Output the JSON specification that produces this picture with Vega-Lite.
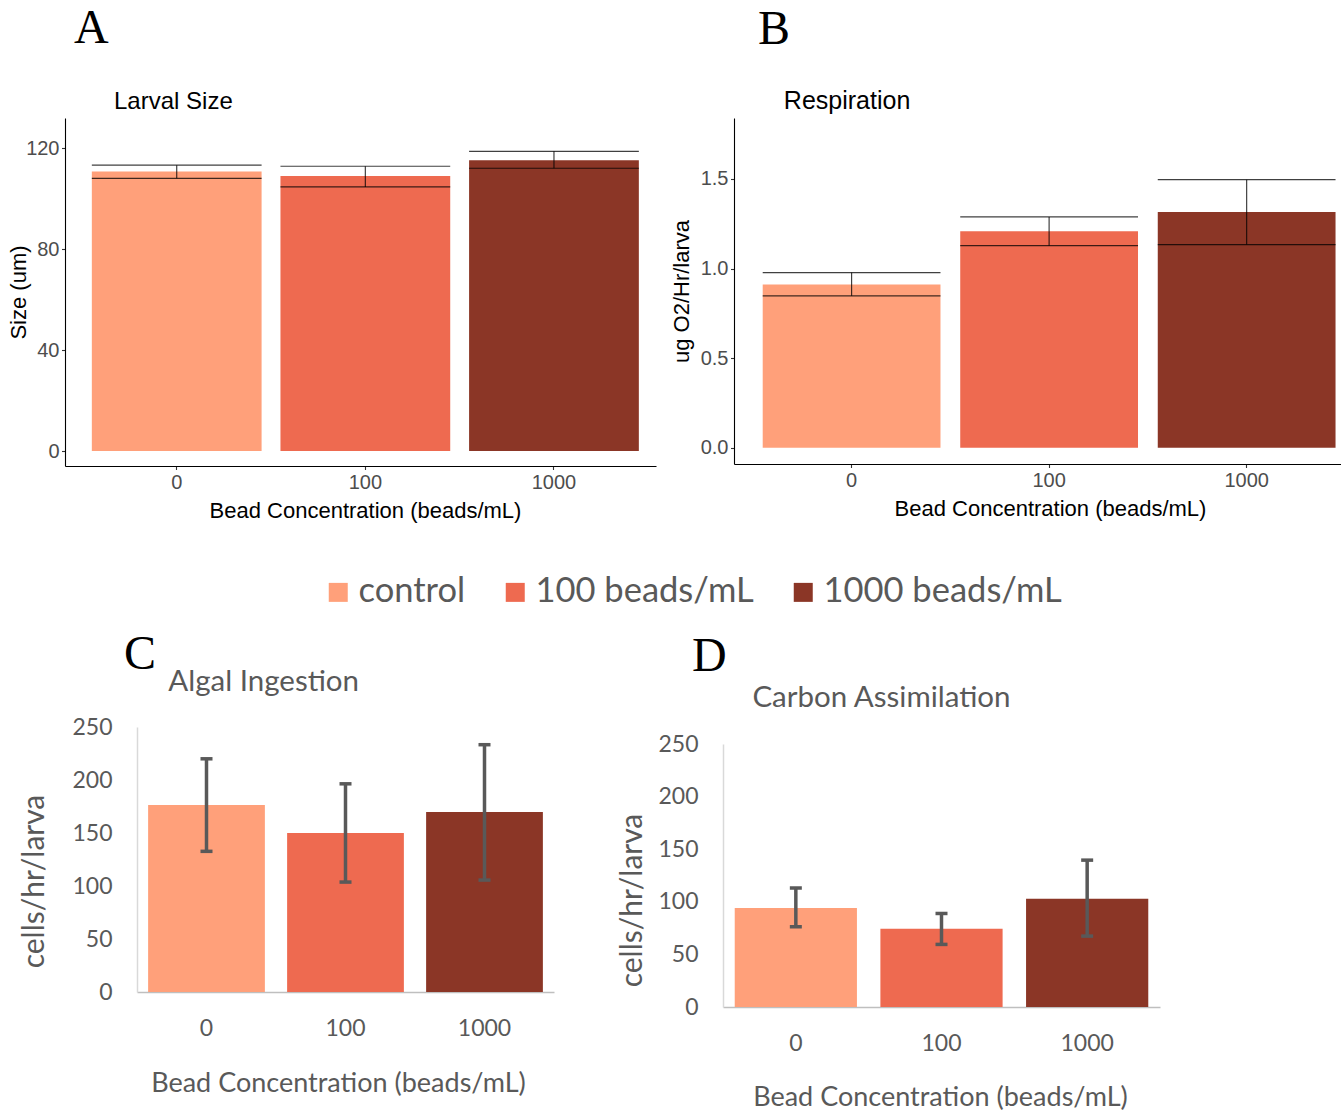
{
  "$schema": "https://vega.github.io/schema/vega-lite/v6.json",
  "background": "white",
  "padding": {"left": 7, "top": 5, "right": 0, "bottom": 0},
  "config": {"view": {"stroke": null}, "axis": {"grid": false}, "legend": {"padding": 0}},
  "datasets": {
    "A": [
      {"conc": "0", "group": "control", "mean": 110.7, "lo": 108.0, "hi": 113.2},
      {"conc": "100", "group": "100 beads/mL", "mean": 108.9, "lo": 104.6, "hi": 112.8},
      {"conc": "1000", "group": "1000 beads/mL", "mean": 115.2, "lo": 112.0, "hi": 118.7}
    ],
    "B": [
      {"conc": "0", "group": "control", "mean": 0.911, "lo": 0.848, "hi": 0.978},
      {"conc": "100", "group": "100 beads/mL", "mean": 1.208, "lo": 1.128, "hi": 1.288},
      {"conc": "1000", "group": "1000 beads/mL", "mean": 1.316, "lo": 1.134, "hi": 1.496}
    ],
    "C": [
      {"conc": "0", "group": "control", "mean": 176.5, "lo": 132.7, "hi": 220.0},
      {"conc": "100", "group": "100 beads/mL", "mean": 150.1, "lo": 103.7, "hi": 196.4},
      {"conc": "1000", "group": "1000 beads/mL", "mean": 169.9, "lo": 105.6, "hi": 233.3}
    ],
    "D": [
      {"conc": "0", "group": "control", "mean": 94.0, "lo": 76.3, "hi": 113.0},
      {"conc": "100", "group": "100 beads/mL", "mean": 74.4, "lo": 59.5, "hi": 88.9},
      {"conc": "1000", "group": "1000 beads/mL", "mean": 102.8, "lo": 67.4, "hi": 139.6}
    ]
  },
  "columns": 2,
  "bounds": "flush",
  "spacing": {"row": 261, "column": 78},
  "concat": [
    {
      "width": 591, "height": 348,
      "data": {"name": "A"},
      "title": {"text": "A", "subtitle": "\u200b\u00a0\u00a0\u00a0\u00a0\u00a0\u00a0Larval Size", "anchor": "start", "frame": "group", "dx": 9, "offset": 4, "font": "Liberation Serif", "fontSize": 48, "fontWeight": "normal", "color": "#000000", "subtitleFont": "Liberation Sans", "subtitleFontSize": 24, "subtitleColor": "#000000", "subtitlePadding": 37},
      "layer": [
        {
          "mark": {"type": "bar"},
          "encoding": {
            "x": {"field": "conc", "type": "ordinal", "sort": ["0", "100", "1000"],
              "scale": {"paddingInner": 0.1, "paddingOuter": 0.1166, "align": 0.61},
              "axis": {"title": "Bead Concentration (beads/mL)", "titleX": 300, "labelAngle": 0, "domainColor": "#000000", "domainWidth": 1.1, "tickColor": "#333333", "tickSize": 3.5, "tickWidth": 1.1, "labelPadding": 3, "labelColor": "#4D4D4D", "labelFont": "Liberation Sans", "labelFontSize": 20, "titleFont": "Liberation Sans", "titleFontSize": 22, "titleFontWeight": "normal", "titleColor": "#000000", "titlePadding": 8}},
            "y": {"field": "mean", "type": "quantitative", "title": "Size (um)",
              "scale": {"domain": [-5.9, 131.9], "nice": false, "zero": false},
              "axis": {"values": [0, 40, 80, 120], "domainColor": "#000000", "domainWidth": 1.1, "tickColor": "#333333", "tickSize": 3.5, "tickWidth": 1.1, "labelPadding": 2.5, "labelColor": "#4D4D4D", "labelFont": "Liberation Sans", "labelFontSize": 20, "titleFont": "Liberation Sans", "titleFontSize": 22, "titleFontWeight": "normal", "titleColor": "#000000", "titlePadding": -5}},
            "y2": {"datum": 0},
            "color": {"field": "group", "type": "nominal",
              "scale": {"domain": ["control", "100 beads/mL", "1000 beads/mL"], "range": ["#FFA07A", "#EE6A50", "#8B3626"]},
              "legend": {"title": null, "orient": "none", "legendX": 256, "legendY": 457, "direction": "horizontal", "symbolType": "square", "symbolSize": 361, "symbolStrokeWidth": 0, "symbolOpacity": 1, "labelFont": "Lato", "labelFontSize": 34.5, "labelColor": "#595959", "labelOffset": 3, "labelLimit": 500, "columnPadding": 32, "padding": 0}}
          }
        },
        {
          "mark": {"type": "rule", "color": "#000000", "opacity": 0.75, "strokeWidth": 1.2},
          "encoding": {
            "x": {"field": "conc", "type": "ordinal", "sort": ["0", "100", "1000"]},
            "y": {"field": "lo", "type": "quantitative", "title": "Size (um)", "scale": {"domain": [-5.9, 131.9], "nice": false, "zero": false}},
            "y2": {"field": "hi"}
          }
        },
        {
          "mark": {"type": "rule", "color": "#000000", "opacity": 0.75, "strokeWidth": 1.2},
          "encoding": {
            "x": {"field": "conc", "type": "ordinal", "sort": ["0", "100", "1000"], "bandPosition": 0},
            "x2": {"field": "conc", "bandPosition": 1},
            "y": {"field": "hi", "type": "quantitative", "title": "Size (um)", "scale": {"domain": [-5.9, 131.9], "nice": false, "zero": false}}
          }
        },
        {
          "mark": {"type": "rule", "color": "#000000", "opacity": 0.75, "strokeWidth": 1.2},
          "encoding": {
            "x": {"field": "conc", "type": "ordinal", "sort": ["0", "100", "1000"], "bandPosition": 0},
            "x2": {"field": "conc", "bandPosition": 1},
            "y": {"field": "lo", "type": "quantitative", "title": "Size (um)", "scale": {"domain": [-5.9, 131.9], "nice": false, "zero": false}}
          }
        }
      ]
    },
    {
      "width": 607, "height": 346,
      "data": {"name": "B"},
      "title": {"text": "B", "subtitle": "\u200b\u00a0\u00a0\u00a0\u2009Respiration", "anchor": "start", "frame": "group", "dx": 24, "offset": 4, "font": "Liberation Serif", "fontSize": 48, "fontWeight": "normal", "color": "#000000", "subtitleFont": "Liberation Sans", "subtitleFontSize": 25, "subtitleColor": "#000000", "subtitlePadding": 35},
      "layer": [
        {
          "mark": {"type": "bar"},
          "encoding": {
            "x": {"field": "conc", "type": "ordinal", "sort": ["0", "100", "1000"],
              "scale": {"paddingInner": 0.1, "paddingOuter": 0.0865, "align": 0.84},
              "axis": {"title": "Bead Concentration (beads/mL)", "titleX": 316, "labelAngle": 0, "domainColor": "#000000", "domainWidth": 1.1, "tickColor": "#333333", "tickSize": 3.5, "tickWidth": 1.1, "labelPadding": 3, "labelColor": "#4D4D4D", "labelFont": "Liberation Sans", "labelFontSize": 20, "titleFont": "Liberation Sans", "titleFontSize": 22, "titleFontWeight": "normal", "titleColor": "#000000", "titlePadding": 8}},
            "y": {"field": "mean", "type": "quantitative", "title": "ug O2/Hr/larva",
              "scale": {"domain": [-0.09, 1.84], "nice": false, "zero": false},
              "axis": {"values": [0, 0.5, 1, 1.5], "format": ".1f", "domainColor": "#000000", "domainWidth": 1.1, "tickColor": "#333333", "tickSize": 3.5, "tickWidth": 1.1, "labelPadding": 2.5, "labelColor": "#4D4D4D", "labelFont": "Liberation Sans", "labelFontSize": 20, "titleFont": "Liberation Sans", "titleFontSize": 22, "titleFontWeight": "normal", "titleColor": "#000000", "titlePadding": 7}},
            "y2": {"datum": 0},
            "color": {"field": "group", "type": "nominal",
              "scale": {"domain": ["control", "100 beads/mL", "1000 beads/mL"], "range": ["#FFA07A", "#EE6A50", "#8B3626"]},
              "legend": {"title": null, "orient": "none", "legendX": 256, "legendY": 457, "direction": "horizontal", "symbolType": "square", "symbolSize": 361, "symbolStrokeWidth": 0, "symbolOpacity": 1, "labelFont": "Lato", "labelFontSize": 34.5, "labelColor": "#595959", "labelOffset": 3, "labelLimit": 500, "columnPadding": 32, "padding": 0}}
          }
        },
        {
          "mark": {"type": "rule", "color": "#000000", "opacity": 0.75, "strokeWidth": 1.2},
          "encoding": {
            "x": {"field": "conc", "type": "ordinal", "sort": ["0", "100", "1000"]},
            "y": {"field": "lo", "type": "quantitative", "title": "ug O2/Hr/larva", "scale": {"domain": [-0.09, 1.84], "nice": false, "zero": false}},
            "y2": {"field": "hi"}
          }
        },
        {
          "mark": {"type": "rule", "color": "#000000", "opacity": 0.75, "strokeWidth": 1.2},
          "encoding": {
            "x": {"field": "conc", "type": "ordinal", "sort": ["0", "100", "1000"], "bandPosition": 0},
            "x2": {"field": "conc", "bandPosition": 1},
            "y": {"field": "hi", "type": "quantitative", "title": "ug O2/Hr/larva", "scale": {"domain": [-0.09, 1.84], "nice": false, "zero": false}}
          }
        },
        {
          "mark": {"type": "rule", "color": "#000000", "opacity": 0.75, "strokeWidth": 1.2},
          "encoding": {
            "x": {"field": "conc", "type": "ordinal", "sort": ["0", "100", "1000"], "bandPosition": 0},
            "x2": {"field": "conc", "bandPosition": 1},
            "y": {"field": "lo", "type": "quantitative", "title": "ug O2/Hr/larva", "scale": {"domain": [-0.09, 1.84], "nice": false, "zero": false}}
          }
        }
      ]
    },
    {
      "width": 489, "height": 265,
      "data": {"name": "C"},
      "title": {"text": "C", "subtitle": "\u200b\u00a0\u00a0\u00a0\u00a0\u00a0\u00a0Algal Ingestion", "anchor": "start", "frame": "group", "dx": 59, "offset": 20, "font": "Liberation Serif", "fontSize": 48, "fontWeight": "normal", "color": "#000000", "subtitleFont": "Lato", "subtitleFontSize": 29.5, "subtitleColor": "#595959", "subtitlePadding": -11},
      "layer": [
        {
          "mark": {"type": "bar"},
          "encoding": {
            "x": {"field": "conc", "type": "ordinal", "sort": ["0", "100", "1000"],
              "scale": {"range": [72, 489], "paddingInner": 0.16, "paddingOuter": 0.08},
              "axis": {"title": "Bead Concentration (beads/mL)", "titleX": 273, "labelAngle": 0, "ticks": false, "tickSize": 0, "domainColor": "#BFBFBF", "domainWidth": 1.5, "labelPadding": 25, "labelColor": "#595959", "labelFont": "Lato", "labelFontSize": 23, "titleFont": "Lato", "titleFontSize": 27, "titleFontWeight": "normal", "titleColor": "#595959", "titlePadding": 30}},
            "y": {"field": "mean", "type": "quantitative", "title": "cells/hr/larva",
              "scale": {"domain": [0, 250], "nice": false},
              "axis": {"values": [0, 50, 100, 150, 200, 250], "offset": -72, "ticks": false, "tickSize": 0, "domainColor": "#D9D9D9", "domainWidth": 1.5, "labelPadding": 25, "labelColor": "#595959", "labelFont": "Lato", "labelFontSize": 23, "titleFont": "Lato", "titleFontSize": 30, "titleFontWeight": "normal", "titleColor": "#595959", "titlePadding": 22, "titleY": 154}},
            "y2": {"datum": 0},
            "color": {"field": "group", "type": "nominal",
              "scale": {"domain": ["control", "100 beads/mL", "1000 beads/mL"], "range": ["#FFA07A", "#EE6A50", "#8B3626"]},
              "legend": {"title": null, "orient": "none", "legendX": 256, "legendY": 457, "direction": "horizontal", "symbolType": "square", "symbolSize": 361, "symbolStrokeWidth": 0, "symbolOpacity": 1, "labelFont": "Lato", "labelFontSize": 34.5, "labelColor": "#595959", "labelOffset": 3, "labelLimit": 500, "columnPadding": 32, "padding": 0}}
          }
        },
        {
          "mark": {"type": "rule", "color": "#595959", "strokeWidth": 3.5},
          "encoding": {
            "x": {"field": "conc", "type": "ordinal", "sort": ["0", "100", "1000"]},
            "y": {"field": "lo", "type": "quantitative", "title": "cells/hr/larva", "scale": {"domain": [0, 250], "nice": false}},
            "y2": {"field": "hi"}
          }
        },
        {
          "mark": {"type": "tick", "color": "#595959", "size": 12, "thickness": 3.5, "opacity": 1},
          "encoding": {
            "x": {"field": "conc", "type": "ordinal", "sort": ["0", "100", "1000"]},
            "y": {"field": "hi", "type": "quantitative", "title": "cells/hr/larva", "scale": {"domain": [0, 250], "nice": false}}
          }
        },
        {
          "mark": {"type": "tick", "color": "#595959", "size": 12, "thickness": 3.5, "opacity": 1},
          "encoding": {
            "x": {"field": "conc", "type": "ordinal", "sort": ["0", "100", "1000"]},
            "y": {"field": "lo", "type": "quantitative", "title": "cells/hr/larva", "scale": {"domain": [0, 250], "nice": false}}
          }
        }
      ]
    },
    {
      "width": 426, "height": 280,
      "data": {"name": "D"},
      "title": {"text": "D", "subtitle": "\u200b\u00a0\u00a0\u00a0\u00a0\u00a0\u00a0\u00a0\u00a0Carbon Assimilation", "anchor": "start", "frame": "group", "dx": -42, "offset": 15, "font": "Liberation Serif", "fontSize": 48, "fontWeight": "normal", "color": "#000000", "subtitleFont": "Lato", "subtitleFontSize": 29.5, "subtitleColor": "#595959", "subtitlePadding": 3},
      "layer": [
        {
          "mark": {"type": "bar"},
          "encoding": {
            "x": {"field": "conc", "type": "ordinal", "sort": ["0", "100", "1000"],
              "scale": {"range": [-11, 426], "paddingInner": 0.161, "paddingOuter": 0.0805},
              "axis": {"title": "Bead Concentration (beads/mL)", "titleX": 206, "labelAngle": 0, "ticks": false, "tickSize": 0, "domainColor": "#BFBFBF", "domainWidth": 1.5, "labelPadding": 25, "labelColor": "#595959", "labelFont": "Lato", "labelFontSize": 23, "titleFont": "Lato", "titleFontSize": 27, "titleFontWeight": "normal", "titleColor": "#595959", "titlePadding": 29}},
            "y": {"field": "mean", "type": "quantitative", "title": "cells/hr/larva",
              "scale": {"domain": [0, 250], "nice": false, "range": [280, 17]},
              "axis": {"values": [0, 50, 100, 150, 200, 250], "offset": 11, "ticks": false, "tickSize": 0, "domainColor": "#D9D9D9", "domainWidth": 1.5, "labelPadding": 25, "labelColor": "#595959", "labelFont": "Lato", "labelFontSize": 23, "titleFont": "Lato", "titleFontSize": 30, "titleFontWeight": "normal", "titleColor": "#595959", "titlePadding": 10, "titleY": 173}},
            "y2": {"datum": 0},
            "color": {"field": "group", "type": "nominal",
              "scale": {"domain": ["control", "100 beads/mL", "1000 beads/mL"], "range": ["#FFA07A", "#EE6A50", "#8B3626"]},
              "legend": {"title": null, "orient": "none", "legendX": 256, "legendY": 457, "direction": "horizontal", "symbolType": "square", "symbolSize": 361, "symbolStrokeWidth": 0, "symbolOpacity": 1, "labelFont": "Lato", "labelFontSize": 34.5, "labelColor": "#595959", "labelOffset": 3, "labelLimit": 500, "columnPadding": 32, "padding": 0}}
          }
        },
        {
          "mark": {"type": "rule", "color": "#595959", "strokeWidth": 3.5},
          "encoding": {
            "x": {"field": "conc", "type": "ordinal", "sort": ["0", "100", "1000"]},
            "y": {"field": "lo", "type": "quantitative", "title": "cells/hr/larva", "scale": {"domain": [0, 250], "nice": false, "range": [280, 17]}},
            "y2": {"field": "hi"}
          }
        },
        {
          "mark": {"type": "tick", "color": "#595959", "size": 12, "thickness": 3.5, "opacity": 1},
          "encoding": {
            "x": {"field": "conc", "type": "ordinal", "sort": ["0", "100", "1000"]},
            "y": {"field": "hi", "type": "quantitative", "title": "cells/hr/larva", "scale": {"domain": [0, 250], "nice": false, "range": [280, 17]}}
          }
        },
        {
          "mark": {"type": "tick", "color": "#595959", "size": 12, "thickness": 3.5, "opacity": 1},
          "encoding": {
            "x": {"field": "conc", "type": "ordinal", "sort": ["0", "100", "1000"]},
            "y": {"field": "lo", "type": "quantitative", "title": "cells/hr/larva", "scale": {"domain": [0, 250], "nice": false, "range": [280, 17]}}
          }
        }
      ]
    }
  ]
}
